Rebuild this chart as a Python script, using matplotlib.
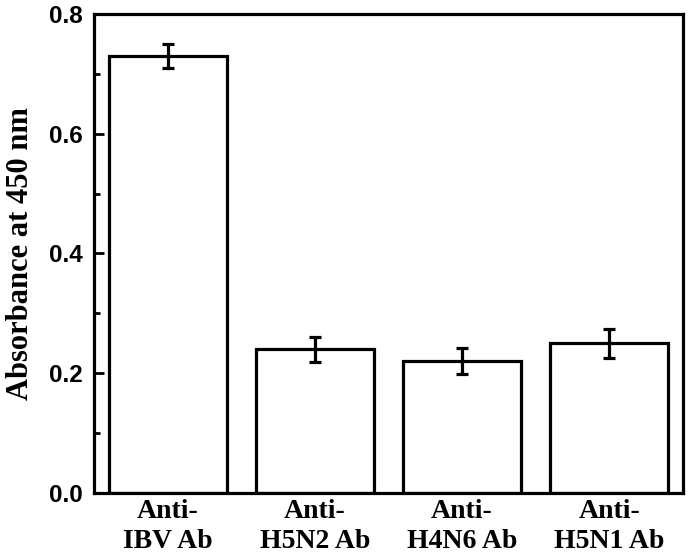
import numpy as np
import matplotlib.pyplot as plt
from matplotlib.ticker import MultipleLocator

# Absorbance values
labels = ['Anti-\nIBV Ab', 'Anti-\nH5N2 Ab', 'Anti-\nH4N6 Ab', 'Anti-\nH5N1 Ab']
absorbance = [0.73, 0.24, 0.22, 0.25]
errors = [0.02, 0.021, 0.022, 0.024]

x = np.arange(1, len(labels) + 1)

fig = plt.figure(figsize=(6.88, 5.57), dpi=100)
ax = fig.add_axes([0.1366, 0.1149, 0.8561, 0.86])

ax.bar(x, absorbance, 0.8, color='white', edgecolor='black', linewidth=2.3,
       yerr=errors, error_kw=dict(ecolor='black', elinewidth=2.3, capsize=4, capthick=2.3))

ax.set_xlim(0.5, 4.5)
ax.set_ylim(0, 0.8)
ax.yaxis.set_major_locator(MultipleLocator(0.2))
ax.yaxis.set_minor_locator(MultipleLocator(0.1))

for s in ax.spines.values():
    s.set_linewidth(2.3)

ax.tick_params(axis='y', which='major', direction='in', length=7, width=2, pad=8)
ax.tick_params(axis='y', which='minor', direction='in', length=4, width=2)
ax.tick_params(axis='x', length=0, pad=4)

ax.set_xticks(x)
ax.set_xticklabels(labels, fontfamily='Liberation Serif', fontweight='bold', fontsize=20,
                   linespacing=1.3)
ax.set_yticks([0.0, 0.2, 0.4, 0.6, 0.8])
ax.set_yticklabels(['0.0', '0.2', '0.4', '0.6', '0.8'], fontfamily='Liberation Sans',
                   fontweight='bold', fontsize=17.5)
ax.set_ylabel('Absorbance at 450 nm', fontfamily='Liberation Serif', fontweight='bold',
              fontsize=22, labelpad=10)

fig.savefig('out.png', dpi=100)
